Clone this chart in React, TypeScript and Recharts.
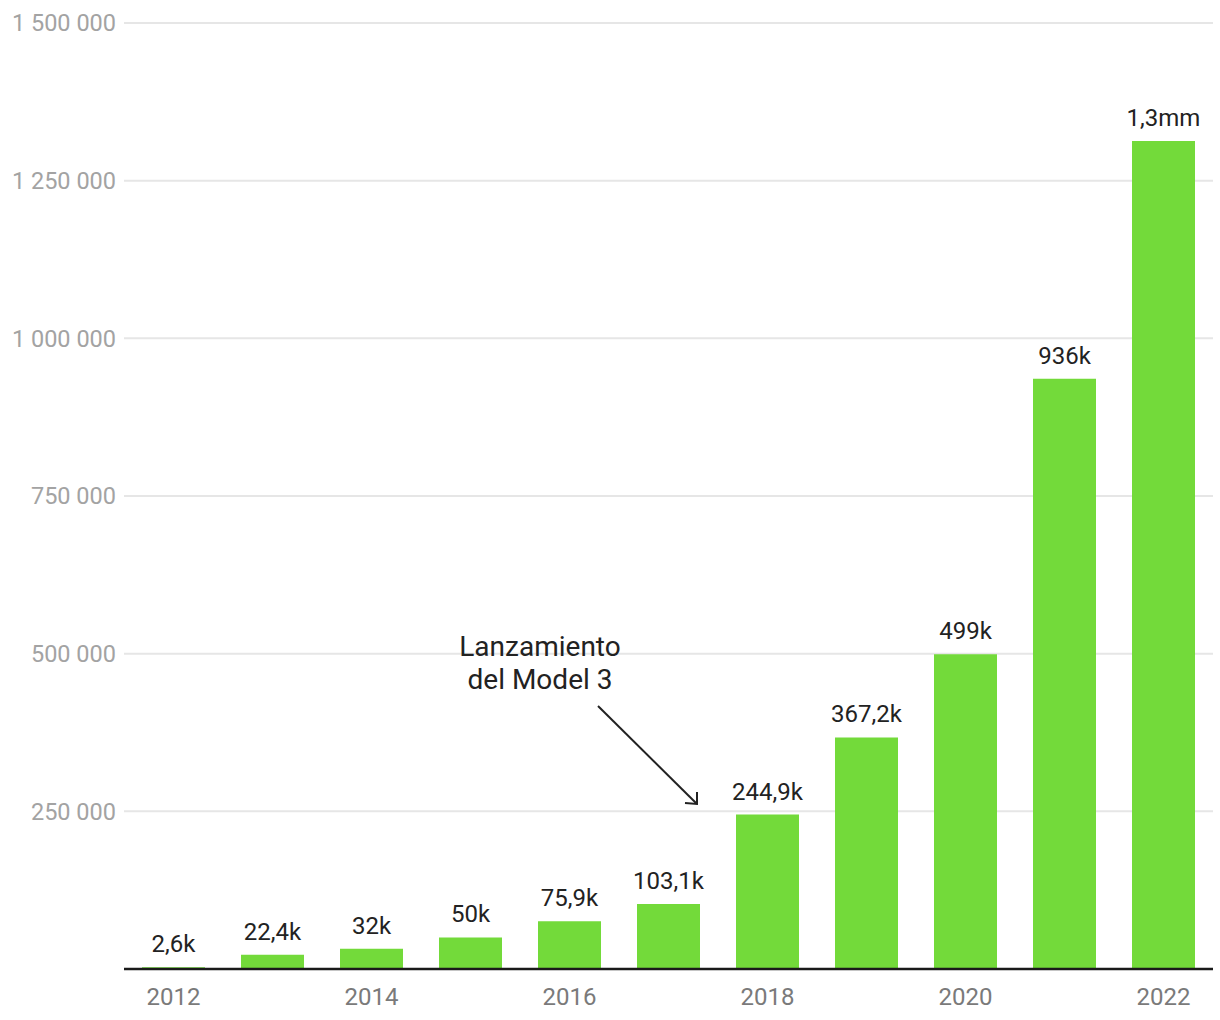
import { BarChart, Bar, XAxis, YAxis, CartesianGrid, LabelList } from "recharts"

const years = ["2012", "2013", "2014", "2015", "2016", "2017", "2018", "2019", "2020", "2021", "2022"]
const deliveries = [2600, 22400, 32000, 50000, 75900, 103100, 244900, 367200, 499000, 936000, 1313000]
const valueLabels = ["2,6k", "22,4k", "32k", "50k", "75,9k", "103,1k", "244,9k", "367,2k", "499k", "936k", "1,3mm"]
const yTicks = [0, 250000, 500000, 750000, 1000000, 1250000, 1500000]

const FONT = "Roboto, 'Noto Sans', sans-serif"

// thousands separated by spaces, zero hidden
const formatTick = (v: number) => (v === 0 ? "" : v.toString().replace(/\B(?=(\d{3})+(?!\d))/g, " "))

export default function App() {
  const data = years.map((year, i) => ({ year, value: deliveries[i], label: valueLabels[i] }))

  return (
    <div style={{ position: "absolute", left: 0, top: 0, width: 1220, height: 1020, background: "#fff", fontFamily: FONT }}>
      <BarChart width={1220} height={1020} data={data} margin={{ top: 23, right: 7, left: 0, bottom: 0 }}>
        <CartesianGrid vertical={false} stroke="#e6e6e6" strokeWidth={2} />
        <XAxis
          dataKey="year"
          interval={1}
          height={51}
          tickLine={false}
          tickSize={0}
          tickMargin={19}
          axisLine={{ stroke: "#1a1a1a", strokeWidth: 2.5 }}
          tick={{ fill: "#7a7a7a", fontSize: 24, fontFamily: FONT }}
        />
        <YAxis
          width={124}
          domain={[0, 1500000]}
          ticks={yTicks}
          tickFormatter={formatTick}
          axisLine={false}
          tickLine={false}
          tickSize={0}
          tickMargin={8}
          tick={{ fill: "#a3a3a3", fontSize: 23.5, fontFamily: FONT }}
        />
        <Bar dataKey="value" fill="#73da3a" barSize={63} isAnimationActive={false}>
          <LabelList dataKey="label" position="top" offset={15} fill="#222" fontSize={24} fontFamily={FONT} />
        </Bar>
      </BarChart>
      {/* annotation */}
      <svg width={1220} height={1020} style={{ position: "absolute", left: 0, top: 0, pointerEvents: "none" }}>
        <text x={540} y={656} textAnchor="middle" fontSize={28} fill="#222" fontFamily={FONT}>
          Lanzamiento
        </text>
        <text x={540} y={689} textAnchor="middle" fontSize={28} fill="#222" fontFamily={FONT}>
          del Model 3
        </text>
        <line x1={598} y1={706} x2={697} y2={804} stroke="#222" strokeWidth={2} />
        <polyline points="685,803 697,804 697,792" fill="none" stroke="#222" strokeWidth={2} />
      </svg>
    </div>
  )
}
